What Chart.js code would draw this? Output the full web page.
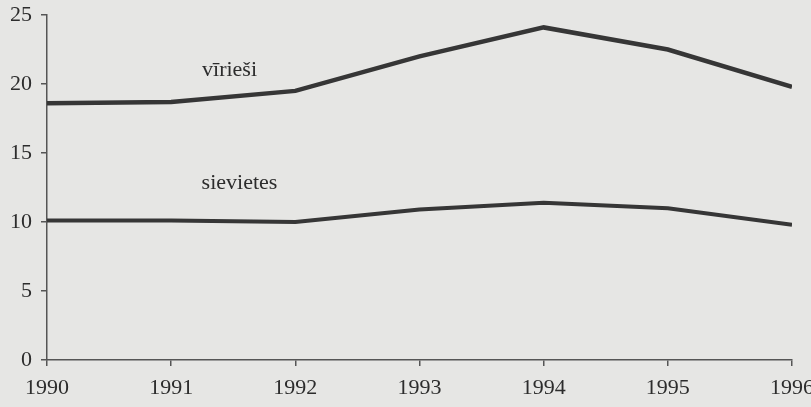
<!DOCTYPE html>
<html>
<head>
<meta charset="utf-8">
<script src="https://cdn.jsdelivr.net/npm/chart.js@4"></script>
<style>
html,body{margin:0;padding:0;background:#e6e6e4;}
#wrap{width:811px;height:407px;}
</style>
</head>
<body>
<div id="wrap"><canvas id="c" width="811" height="407"></canvas></div>
<script>
const years = [1990, 1991, 1992, 1993, 1994, 1995, 1996];
const virieshi = [18.6, 18.7, 19.5, 22.0, 24.1, 22.5, 19.8];
const sievietes = [10.1, 10.1, 10.0, 10.9, 11.4, 11.0, 9.8];
const yTicks = [0, 5, 10, 15, 20, 25];
const seriesLabels = ['vīrieši', 'sievietes'];
const labelAnchors = [[1991.47, 21.0], [1991.55, 12.8]];

const lineColor = '#363636';
const axisColor = '#555555';
const textColor = '#2c2c2c';
const fontFamily = '"Liberation Serif", "DejaVu Serif", serif';

const labelPlugin = {
  id: 'seriesLabels',
  afterDatasetsDraw(chart) {
    const ctx = chart.ctx;
    const xs = chart.scales.x, ys = chart.scales.y;
    ctx.save();
    ctx.fillStyle = textColor;
    ctx.font = '22px ' + fontFamily;
    ctx.textAlign = 'center';
    ctx.textBaseline = 'middle';
    seriesLabels.forEach((t, i) => {
      ctx.fillText(t, xs.getPixelForValue(labelAnchors[i][0]), ys.getPixelForValue(labelAnchors[i][1]));
    });
    ctx.restore();
  }
};

new Chart(document.getElementById('c'), {
  type: 'line',
  data: {
    datasets: [
      { label: seriesLabels[0], data: years.map((y, i) => ({x: y, y: virieshi[i]})), borderColor: lineColor, borderWidth: 4.5, pointRadius: 0, tension: 0, fill: false },
      { label: seriesLabels[1], data: years.map((y, i) => ({x: y, y: sievietes[i]})), borderColor: lineColor, borderWidth: 4, pointRadius: 0, tension: 0, fill: false }
    ]
  },
  options: {
    responsive: false,
    animation: false,
    devicePixelRatio: 1,
    layout: { padding: { top: 15, right: 19, left: 0, bottom: 0 } },
    plugins: { legend: { display: false }, tooltip: { enabled: false } },
    scales: {
      x: {
        type: 'linear', min: 1990, max: 1996,
        afterBuildTicks(s) { s.ticks = years.map(v => ({value: v})); },
        afterFit(s) { s.height = 47; s.paddingLeft = 0; s.paddingRight = 0; },
        grid: { drawOnChartArea: false, drawTicks: true, tickLength: 6, color: axisColor, lineWidth: 1.5 },
        border: { display: true, color: axisColor, width: 1.5 },
        ticks: { color: textColor, font: { family: fontFamily, size: 22 }, padding: 9, callback: v => String(v), maxRotation: 0, autoSkip: false }
      },
      y: {
        min: 0, max: 25,
        afterBuildTicks(s) { s.ticks = yTicks.map(v => ({value: v})); },
        afterFit(s) { s.width = 47; s.paddingTop = 0; s.paddingBottom = 0; },
        grid: { drawOnChartArea: false, drawTicks: true, tickLength: 6, color: axisColor, lineWidth: 1.5 },
        border: { display: true, color: axisColor, width: 1.5 },
        ticks: { color: textColor, font: { family: fontFamily, size: 22 }, padding: 9 }
      }
    }
  },
  plugins: [labelPlugin]
});
</script>
</body>
</html>
